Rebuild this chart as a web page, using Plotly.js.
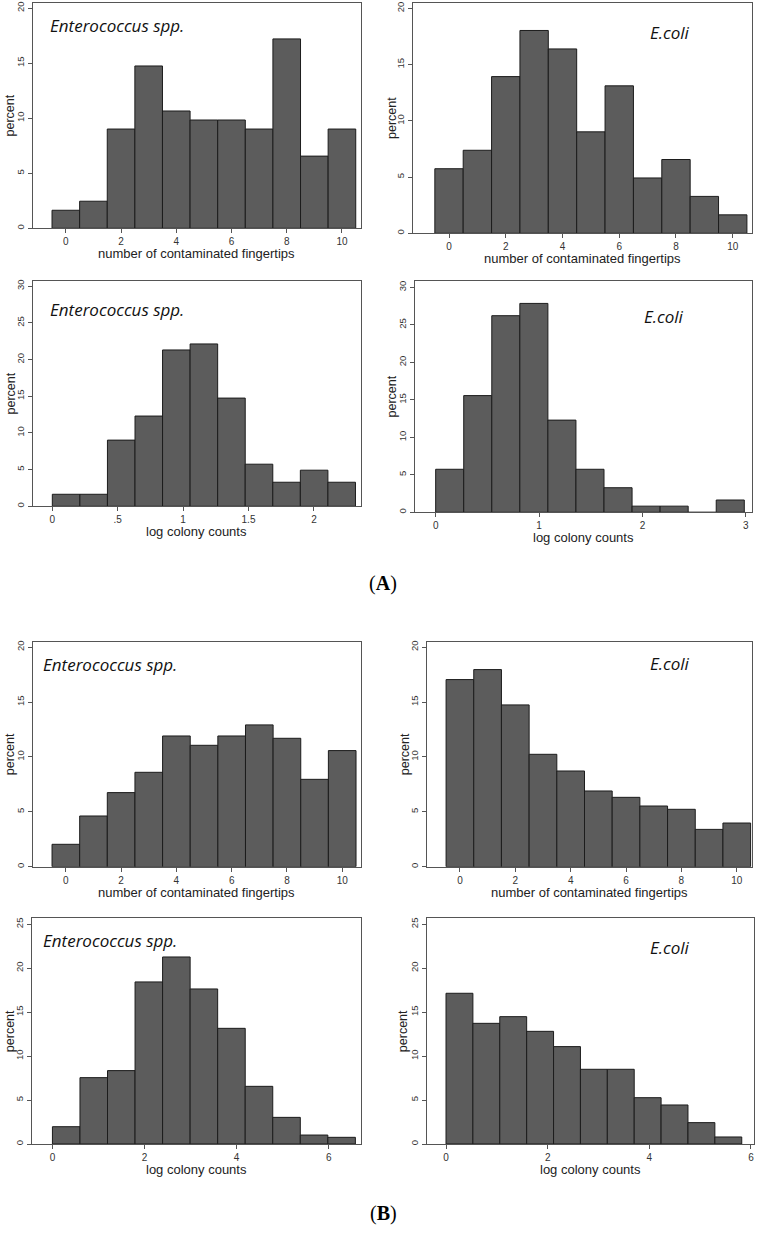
<!DOCTYPE html>
<html><head><meta charset="utf-8">
<script src="https://cdn.plot.ly/plotly-3.0.1.min.js"></script>
<style>html,body{margin:0;padding:0;background:#fff}#chart{width:758px;height:1248px}</style>
</head><body><div id="chart"></div>
<script>
// ---- data (percent per bin) ----
const aFingerEnterococcus = [1.64, 2.46, 9.02, 14.75, 10.66, 9.84, 9.84, 9.02, 17.21, 6.56, 9.02];
const aFingerEcoli        = [5.74, 7.38, 13.93, 18.03, 16.39, 9.02, 13.11, 4.92, 6.56, 3.28, 1.64];
const aLogEnterococcus    = [1.64, 1.64, 9.02, 12.30, 21.31, 22.13, 14.75, 5.74, 3.28, 4.92, 3.28];
const aLogEcoli           = [5.74, 15.57, 26.23, 27.87, 12.30, 5.74, 3.28, 0.82, 0.82, 0, 1.64];
const bFingerEnterococcus = [2.04, 4.62, 6.75, 8.60, 11.91, 11.06, 11.91, 12.92, 11.70, 7.96, 10.58];
const bFingerEcoli        = [17.05, 17.96, 14.74, 10.24, 8.72, 6.90, 6.32, 5.53, 5.23, 3.40, 3.98];
const bLogEnterococcus    = [1.97, 7.55, 8.35, 18.44, 21.28, 17.64, 13.16, 6.56, 3.03, 1.02, 0.76];
const bLogEcoli           = [17.15, 13.73, 14.49, 12.82, 11.08, 8.50, 8.50, 5.27, 4.44, 2.43, 0.80];

// bin starts and widths
const fingerBinStart = -0.5, fingerBinWidth = 1;
const aLogEntBinStart = 0, aLogEntBinWidth = 0.2107;
const aLogEcoBinStart = 0, aLogEcoBinWidth = 0.2714;
const bLogEntBinStart = 0, bLogEntBinWidth = 0.598;
const bLogEcoBinStart = 0, bLogEcoBinWidth = 0.529;

// tick labels
const fingerTickVals = [0, 2, 4, 6, 8, 10];
const fingerTickText = ['0', '2', '4', '6', '8', '10'];
const aLogEntTickVals = [0, 0.5, 1, 1.5, 2];
const aLogEntTickText = ['0', '.5', '1', '1.5', '2'];
const aLogEcoTickVals = [0, 1, 2, 3];
const aLogEcoTickText = ['0', '1', '2', '3'];
const bLogTickVals = [0, 2, 4, 6];
const bLogTickText = ['0', '2', '4', '6'];

const organismLeft = 'Enterococcus spp.';
const organismRight = 'E.coli';
const xTitleFinger = 'number of contaminated fingertips';
const xTitleLog = 'log colony counts';
const yTitle = 'percent';

// ---- layout geometry (pixels) ----
const W = 758, H = 1248;
const panels = [
  {v: aFingerEnterococcus, s: fingerBinStart, w: fingerBinWidth, px: [32.7, 361, 2.7, 228.3], xr: [-1.2, 10.69], yr: [0, 20.5], yt: [0,5,10,15,20], tv: fingerTickVals, tt: fingerTickText, lab: organismLeft, labPos: [48, 25], xt: xTitleFinger, yx: 10},
  {v: aFingerEcoli, s: fingerBinStart, w: fingerBinWidth, px: [412.7, 752.3, 2.7, 233.3], xr: [-1.28, 10.69], yr: [0, 20.5], yt: [0,5,10,15,20], tv: fingerTickVals, tt: fingerTickText, lab: organismRight, labPos: [648, 32], xt: xTitleFinger, yx: 392},
  {v: aLogEnterococcus, s: aLogEntBinStart, w: aLogEntBinWidth, px: [32.7, 361, 280.7, 506.3], xr: [-0.15, 2.36], yr: [0, 30.75], yt: [0,5,10,15,20,25,30], tv: aLogEntTickVals, tt: aLogEntTickText, lab: organismLeft, labPos: [48, 309], xt: xTitleLog, yx: 10},
  {v: aLogEcoli, s: aLogEcoBinStart, w: aLogEcoBinWidth, px: [415, 752, 280.7, 512.3], xr: [-0.2, 3.06], yr: [0, 30.9], yt: [0,5,10,15,20,25,30], tv: aLogEcoTickVals, tt: aLogEcoTickText, lab: organismRight, labPos: [642, 316], xt: xTitleLog, yx: 392},
  {v: bFingerEnterococcus, s: fingerBinStart, w: fingerBinWidth, px: [32.7, 361, 641.7, 866.7], xr: [-1.2, 10.68], yr: [0, 20.5], yt: [0,5,10,15,20], tv: fingerTickVals, tt: fingerTickText, lab: organismLeft, labPos: [41, 664], xt: xTitleFinger, yx: 10},
  {v: bFingerEcoli, s: fingerBinStart, w: fingerBinWidth, px: [426.7, 752, 641.7, 866.7], xr: [-1.2, 10.55], yr: [0, 20.5], yt: [0,5,10,15,20], tv: fingerTickVals, tt: fingerTickText, lab: organismRight, labPos: [648, 663], xt: xTitleFinger, yx: 405},
  {v: bLogEnterococcus, s: bLogEntBinStart, w: bLogEntBinWidth, px: [31.7, 361, 918.3, 1144], xr: [-0.45, 6.7], yr: [0, 25.68], yt: [0,5,10,15,20,25], tv: bLogTickVals, tt: bLogTickText, lab: organismLeft, labPos: [41, 940], xt: xTitleLog, yx: 10},
  {v: bLogEcoli, s: bLogEcoBinStart, w: bLogEcoBinWidth, px: [426.7, 754, 918.3, 1144], xr: [-0.38, 6.06], yr: [0, 25.68], yt: [0,5,10,15,20,25], tv: bLogTickVals, tt: bLogTickText, lab: organismRight, labPos: [648, 947], xt: xTitleLog, yx: 403}
];

const tickFont = {family: 'Liberation Sans, Arial, sans-serif', size: 10, color: '#333'};
const traces = [];
const layout = {
  width: W, height: H, margin: {l: 0, r: 0, t: 0, b: 0},
  paper_bgcolor: '#fff', plot_bgcolor: '#fff', showlegend: false,
  bargap: 0, annotations: []
};

panels.forEach((p, i) => {
  const n = i + 1;
  const xa = n === 1 ? 'x' : 'x' + n;
  const ya = n === 1 ? 'y' : 'y' + n;
  traces.push({
    type: 'bar', xaxis: xa, yaxis: ya,
    x: p.v.map((_, k) => p.s + (k + 0.5) * p.w),
    y: p.v, width: p.w,
    marker: {color: '#5c5c5c', line: {color: '#1c1c1c', width: 1}},
    hoverinfo: 'x+y'
  });
  const common = {
    showline: true, mirror: true, linecolor: '#555', linewidth: 1,
    ticks: 'outside', ticklen: 4, tickcolor: '#555', tickwidth: 1,
    showgrid: false, zeroline: false, tickfont: tickFont, fixedrange: true
  };
  layout[n === 1 ? 'xaxis' : 'xaxis' + n] = Object.assign({}, common, {
    domain: [p.px[0] / W, p.px[1] / W], anchor: ya,
    range: p.xr, tickmode: 'array', tickvals: p.tv, ticktext: p.tt
  });
  layout[n === 1 ? 'yaxis' : 'yaxis' + n] = Object.assign({}, common, {
    domain: [1 - p.px[3] / H, 1 - p.px[2] / H], anchor: xa,
    range: p.yr, tickmode: 'array', tickvals: p.yt, tickangle: -90,
    tickfont: Object.assign({}, tickFont, {size: 9.5})
  });
  // organism label
  layout.annotations.push({
    xref: 'paper', yref: 'paper', x: p.labPos[0] / W, y: 1 - p.labPos[1] / H,
    xanchor: 'left', yanchor: 'middle', showarrow: false,
    text: '<i>' + p.lab + '</i>',
    font: {family: 'Open Sans, Noto Sans, sans-serif', size: 17, color: '#111'}
  });
  // x title
  layout.annotations.push({
    xref: 'paper', yref: 'paper', x: ((p.px[0] + p.px[1]) / 2) / W, y: 1 - (p.px[3] + 25.5) / H,
    xanchor: 'center', yanchor: 'middle', showarrow: false, text: p.xt,
    font: {family: 'Liberation Sans, Arial, sans-serif', size: 13, color: '#222'}
  });
  // y title
  layout.annotations.push({
    xref: 'paper', yref: 'paper', x: p.yx / W, y: 1 - ((p.px[2] + p.px[3]) / 2) / H,
    xanchor: 'center', yanchor: 'middle', showarrow: false, text: yTitle, textangle: -90,
    font: {family: 'Liberation Sans, Arial, sans-serif', size: 12.5, color: '#222'}
  });
});

// panel letters
layout.annotations.push({xref: 'paper', yref: 'paper', x: 383 / W, y: 1 - 583 / H, xanchor: 'center', yanchor: 'middle', showarrow: false,
  text: '(<b>A</b>)', font: {family: 'Liberation Serif, Times New Roman, serif', size: 20, color: '#000'}});
layout.annotations.push({xref: 'paper', yref: 'paper', x: 383 / W, y: 1 - 1213 / H, xanchor: 'center', yanchor: 'middle', showarrow: false,
  text: '(<b>B</b>)', font: {family: 'Liberation Serif, Times New Roman, serif', size: 20, color: '#000'}});

Plotly.newPlot('chart', traces, layout, {staticPlot: true, displayModeBar: false});
</script></body></html>
